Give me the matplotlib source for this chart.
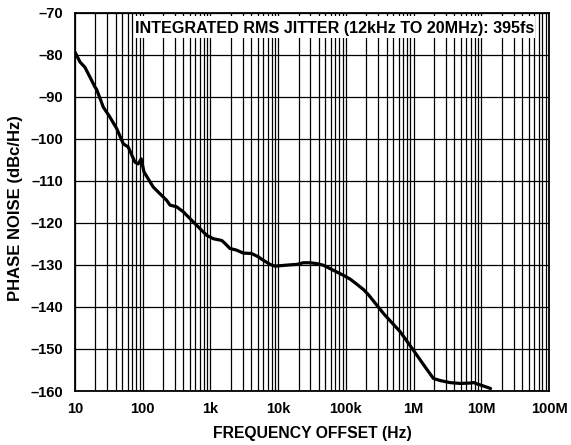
import numpy as np
import matplotlib.pyplot as plt
from matplotlib.patches import Rectangle
from matplotlib.ticker import FixedLocator, LogLocator, NullFormatter

plt.rcParams['font.family'] = ['Liberation Sans', 'DejaVu Sans']
plt.rcParams['font.weight'] = 'bold'

# phase noise curve
freq_hz = [10, 11.9, 14, 16.7, 19.7, 20.9, 26.2, 32.9, 41.3, 51.7, 61.2, 77, 86, 95,
           104.5, 143, 180, 227, 253, 317, 398, 559, 702, 884, 1110, 1470, 1640,
           1940, 2430, 3050, 4050, 5100, 6030, 7600, 9000, 10700, 15000, 18800,
           23600, 29600, 37200, 46700, 58600, 73500, 92300, 116000, 145000,
           183000, 218000, 361000, 634000, 994000, 1500000, 1960000, 2460000,
           3450000, 4900000, 6840000, 7750000, 8600000, 10300000, 13700000]
noise_dbc = [-79.4, -81.8, -83.0, -85.4, -87.7, -88.3, -92.5, -94.9, -97.6, -101.2,
             -102.0, -105.6, -106.0, -104.8, -107.9, -111.5, -113.1, -114.7, -115.8,
             -116.2, -117.4, -119.8, -121.4, -123.0, -123.8, -124.2, -124.9, -126.1,
             -126.5, -127.2, -127.3, -128.1, -128.9, -129.9, -130.3, -130.2, -130.0,
             -129.9, -129.5, -129.5, -129.7, -130.1, -130.9, -131.7, -132.5, -133.4,
             -134.6, -135.9, -137.2, -141.6, -145.9, -150.3, -154.4, -157.0, -157.5,
             -158.0, -158.2, -158.1, -158.0, -158.3, -158.7, -159.4]

x_ticks = [10, 1e2, 1e3, 1e4, 1e5, 1e6, 1e7, 1e8]
x_tick_labels = ['10', '100', '1k', '10k', '100k', '1M', '10M', '100M']
y_ticks = [-70, -80, -90, -100, -110, -120, -130, -140, -150, -160]
title_text = 'INTEGRATED RMS JITTER (12kHz TO 20MHz): 395fs'

fig = plt.figure(figsize=(5.71, 4.45), dpi=100)
ax = fig.add_axes([0.1313, 0.1213, 0.8302, 0.8506])

ax.plot(freq_hz, noise_dbc, color='black', lw=2.3, zorder=4,
        solid_joinstyle='round', solid_capstyle='round')

ax.set_xscale('log')
ax.set_xlim(10, 1e8)
ax.set_ylim(-160, -70)
ax.set_xticks(x_ticks)
ax.set_xticklabels(x_tick_labels)
ax.xaxis.set_minor_locator(LogLocator(base=10, subs=np.arange(2, 10)))
ax.xaxis.set_minor_formatter(NullFormatter())
ax.yaxis.set_major_locator(FixedLocator(y_ticks))
ax.set_yticklabels(['\u2013' + str(abs(v)) for v in y_ticks])

ax.grid(which='both', axis='x', color='black', lw=0.9)
ax.grid(which='major', axis='y', color='black', lw=0.9)
ax.tick_params(which='both', length=0, labelsize=10.5)
ax.tick_params(axis='y', pad=8.5)
ax.tick_params(axis='x', pad=8)
for sp in ax.spines.values():
    sp.set_linewidth(1.3)

# white label box over the grid
ax.add_patch(Rectangle((0.1266, 0.9326), 0.8434, 0.0582, transform=ax.transAxes,
                       facecolor='white', edgecolor='none', zorder=3))
ax.text(0.5485, 0.9458, title_text, transform=ax.transAxes, ha='center',
        va='baseline', fontsize=11.6, fontweight='bold', zorder=5)

ax.set_xlabel('FREQUENCY OFFSET (Hz)', fontsize=11.3, fontweight='bold', va='center')
ax.set_ylabel('PHASE NOISE (dBc/Hz)', fontsize=12, fontweight='bold', va='center')
ax.xaxis.set_label_coords(0.5, -0.111)
ax.yaxis.set_label_coords(-0.1245, 0.4835)

fig.savefig('out.png', dpi=100)
